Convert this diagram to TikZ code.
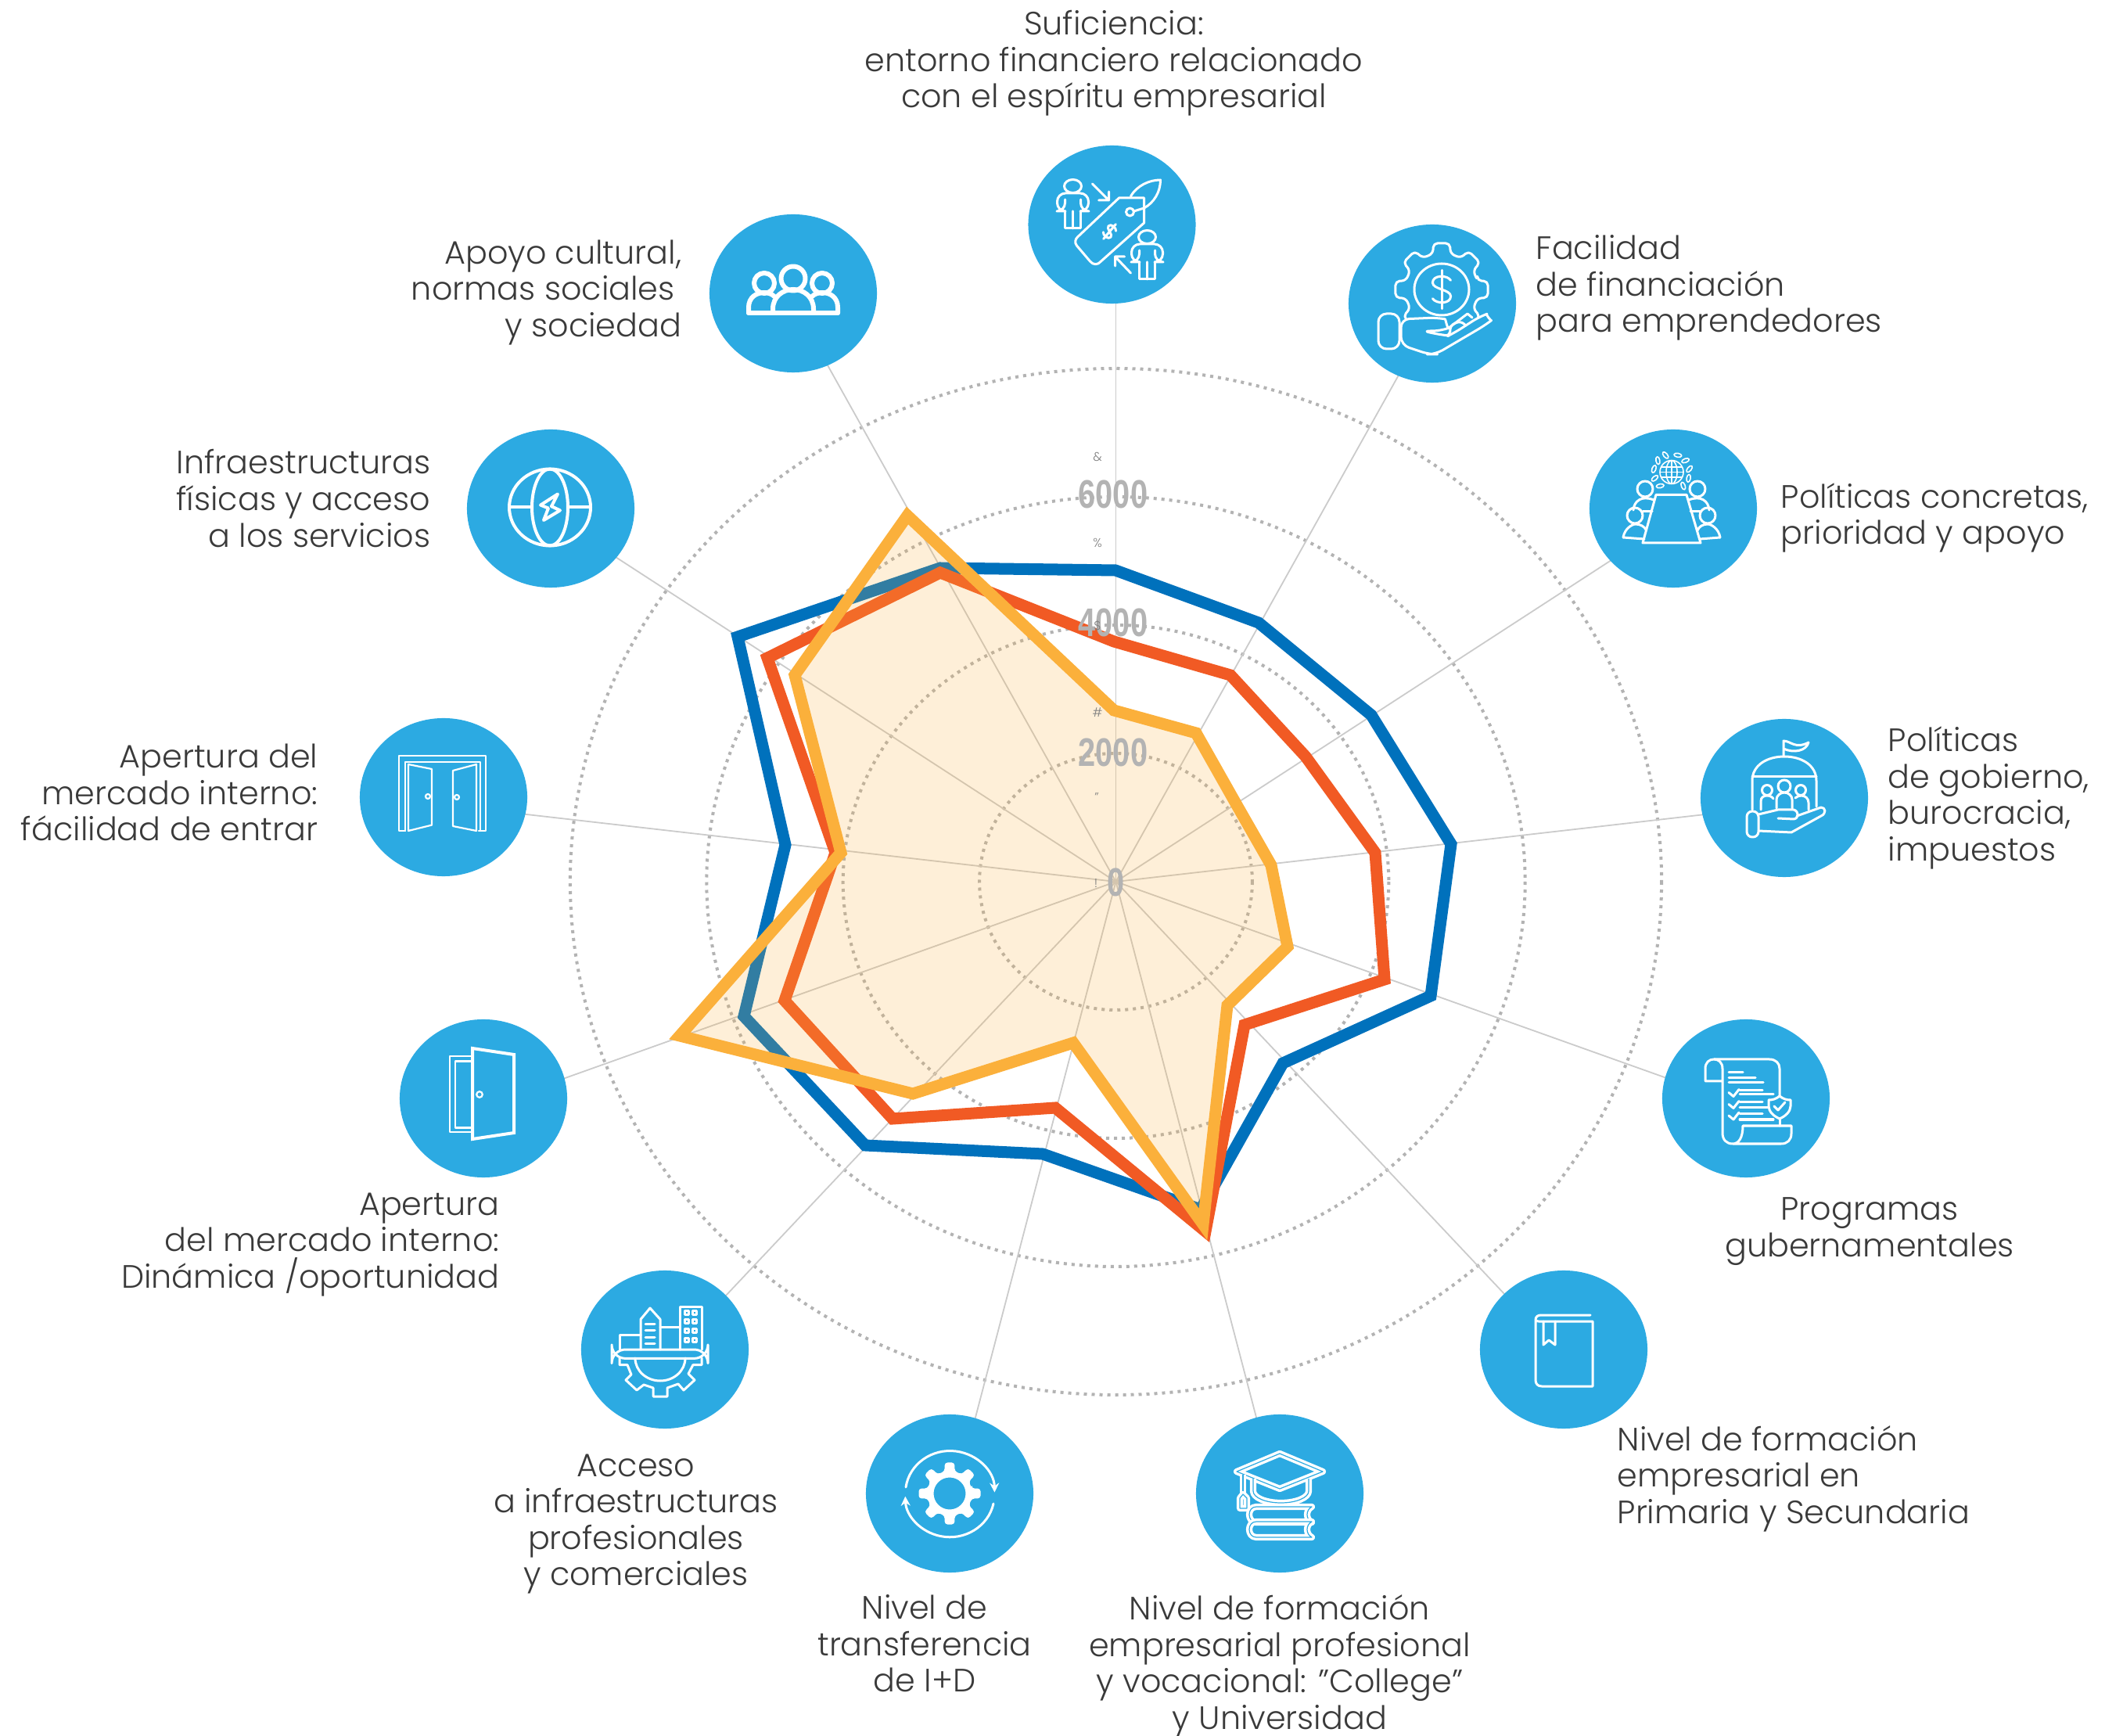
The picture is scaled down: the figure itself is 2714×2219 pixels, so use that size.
\documentclass[tikz,border=0pt]{standalone}
\usepackage{fontspec}
\setmainfont{Poppins}[UprightFont={* Light}]
\newfontfamily\numfont{Liberation Sans}
\usetikzlibrary{shapes.geometric,arrows.meta}
\definecolor{badgeblue}{HTML}{2CAAE2}
\definecolor{ringgray}{HTML}{B3B3B3}
\definecolor{spokegray}{HTML}{CBCBCB}
\definecolor{textgray}{HTML}{3A3A3A}
\definecolor{bluelin}{HTML}{0071BC}
\definecolor{redlin}{HTML}{F15A24}
\definecolor{yellin}{HTML}{FBB03B}

\begin{document}
\begin{tikzpicture}[
  x=0.01cm, y=-0.01cm,
  ring/.style={draw=ringgray, line width=0.04cm, dash pattern=on 0.04cm off 0.06cm},
  spoke/.style={draw=spokegray, line width=0.018cm},
  series/.style={line width=0.15cm, miter limit=10},
  badge/.style={ellipse, fill=badgeblue, minimum width=2.14cm, minimum height=2.02cm, inner sep=0pt},
  lbl/.style={text=textgray, inner sep=0pt, font=\fontsize{11.75}{13.24}\selectfont},
  numlbl/.style={text=ringgray, inner sep=0pt, font=\numfont\bfseries\fontsize{14.5}{15}\selectfont},
  tick/.style={text=gray, inner sep=0pt, font=\fontsize{4.5}{5}\selectfont},
  icon/.style={draw=white, line width=0.03cm, line join=round, line cap=round},
  iconthin/.style={draw=white, line width=0.016cm, line join=round},
  dbl/.style={draw=white, line width=0.035cm, double=badgeblue, double distance=0.012cm, line join=round},
  person/.pic={
    \draw[icon] (0,0) ellipse[x radius=11, y radius=8.5];
    \draw[icon, rounded corners=3] (-10,17) -- (-10,32) -- (-20,32) -- (-20,9) -- (20,9) -- (20,32) -- (10,32) -- (10,17);
    \draw[icon] (-10,32) -- (-10,54) -- (10,54) -- (10,32) (0,32) -- (0,54);
  },
  dollar/.pic={
    \draw[icon] (8,-8) .. controls (5,-13) and (-8,-13) .. (-8,-6) .. controls (-8,0) and (8,0) .. (8,6) .. controls (8,13) and (-5,13) .. (-8,8);
    \draw[icon] (0,-17) -- (0,17);
  },
]
\useasboundingbox (0,0) rectangle (2714,2219);

% rings and spokes
\coordinate (o) at (1426.5,1127);
\foreach \k in {1,2,3,4}
  \draw[ring] (o) ellipse[x radius=174.4*\k, y radius=164*\k];
\foreach \i in {0,...,12} {
  \coordinate (s\i) at ({1426.5+820*1.0637*sin(\i*360/13)},{1127-820*cos(\i*360/13)});
  \draw[spoke] (o) -- (s\i);
}

% series
\draw[series, draw=bluelin] (1426,729) -- (1609,796) -- (1753,914) -- (1855,1079) -- (1829,1273) -- (1640,1359) -- (1535,1546) -- (1333,1475) -- (1106,1464) -- (951,1299) -- (1004,1080) -- (943,814) -- (1202,726) -- cycle;
\draw[series, draw=redlin] (1424,820) -- (1573,863) -- (1669,967) -- (1758,1090) -- (1770,1252) -- (1591,1310) -- (1541,1574) -- (1349,1416) -- (1141,1430) -- (1003,1279) -- (1068,1090) -- (981,841) -- (1202,732) -- cycle;
\draw[series, draw=yellin, fill=yellin, fill opacity=.2] (1424,908) -- (1529,937) -- (1581,1029) -- (1625,1106) -- (1646,1210) -- (1569,1285) -- (1538,1565) -- (1372,1333) -- (1167,1398) -- (869,1324) -- (1075,1090) -- (1016,863) -- (1160,659) -- cycle;

% axis values
\node[numlbl] (v6) at (1423,632) {\scalebox{.78}[1]{6000}};
\node[numlbl] (v4) at (1423,796) {\scalebox{.78}[1]{4000}};
\node[numlbl] (v2) at (1423,962) {\scalebox{.78}[1]{2000}};
\node[numlbl] (v0) at (1427,1128) {\scalebox{.78}[1]{0}};
\node[tick] (t6) at (1403,584) {\&};
\node[tick] (t5) at (1403,694) {\%};
\node[tick] (t4) at (1403,800) {\$};
\node[tick] (t3) at (1403,911) {\#};
\node[tick] (t2) at (1402,1019) {"};
\node[tick] (t1) at (1401,1129) {!};

% badges
\node[badge] (sufic) at (1421.5,287) {};
\node[badge] (finan) at (1831,388) {};
\node[badge] (conc) at (2139,650) {};
\node[badge] (gob) at (2281,1020) {};
\node[badge] (prog) at (2232,1404) {};
\node[badge] (prim) at (1999,1725) {};
\node[badge] (prof) at (1636,1909) {};
\node[badge] (idi) at (1214,1909) {};
\node[badge] (acc) at (850,1725) {};
\node[badge] (din) at (618,1404) {};
\node[badge] (fac) at (567,1019) {};
\node[badge] (infra) at (704,650) {};
\node[badge] (apoyo) at (1014,375) {};

% labels
\node[lbl, align=center] (lsufic) at (1424,81) {Suficiencia:\\entorno financiero relacionado\\con el espíritu empresarial};
\node[lbl, align=left, anchor=west] (lfinan) at (1963,368) {Facilidad\\de financiación\\para emprendedores};
\node[lbl, align=left, anchor=west] (lconc) at (2276,662) {Políticas concretas,\\prioridad y apoyo};
\node[lbl, align=left, anchor=west] (lgob) at (2413,1020) {Políticas\\de gobierno,\\burocracia,\\impuestos};
\node[lbl, align=center] (lprog) at (2390,1574) {Programas\\gubernamentales};
\node[lbl, align=left, anchor=west] (lprim) at (2067,1890) {Nivel de formación\\empresarial en\\Primaria y Secundaria};
\node[lbl, align=center] (lprof) at (1636,2130) {Nivel de formación\\empresarial profesional\\y vocacional: "College"\\y Universidad};
\node[lbl, align=center] (lidi) at (1182,2101) {Nivel de\\transferencia\\de I+D};
\node[lbl, align=center] (lacc) at (813,1948) {Acceso\\a infraestructuras\\profesionales\\y comerciales};
\node[lbl, align=right, anchor=east] (ldin) at (639,1591) {Apertura\\del mercado interno:\\Dinámica /oportunidad};
\node[lbl, align=right, anchor=east] (lfac) at (407,1013) {Apertura del\\mercado interno:\\fácilidad de entrar};
\node[lbl, align=right, anchor=east] (linfra) at (551,637) {Infraestructuras\\físicas y acceso\\a los servicios};
\node[lbl, align=right, anchor=east] (lapoyo) at (872,374) {Apoyo cultural,\\normas sociales\rule{.21em}{0pt}\\y sociedad};

% icon: tag
\begin{scope}[shift={(sufic.center)}]
  \pic at (-50,-49) {person};
  \pic at (45,16) {person};
  \draw[icon] (9,-34) -- (41,-34) -- (41,-2) -- (-14,47) .. controls (-18,52) and (-24,52) .. (-28,47) -- (-45,27) .. controls (-48,23) and (-47,19) .. (-44,16) -- cycle;
  \draw[icon] (23,-16) circle[radius=5];
  \draw[icon] (24,-36) .. controls (32,-50) and (48,-57) .. (62,-57) .. controls (62,-42) and (54,-28) .. (41,-21) -- (28,-17);
  \draw[icon] (-25,-52) -- (-4,-31) -- (-4,-42) (-4,-31) -- (-17,-31);
  \draw[icon] (24,62) -- (4,41) -- (4,53) (4,41) -- (16,41);
  \pic[rotate=-40, scale=.72] at (-3,9) {dollar};
\end{scope}

% icon: gear and hand
\begin{scope}[shift={(finan.center)}]
  \begin{scope}[shift={(12,-18)}]
    \draw[icon, rounded corners=1.5] (-14:47) \foreach \a in {0,45,...,315} {-- (\a-14:47) -- (\a-10:60) -- (\a+10:60) -- (\a+14:47)} -- cycle;
    \draw[icon] (0,0) ellipse[x radius=35, y radius=33];
    \pic[scale=1.45] at (0,0) {dollar};
  \end{scope}
  \draw[icon, fill=badgeblue, rounded corners=3] (-40,20) -- (6,18) .. controls (17,20) and (19,32) .. (11,35) -- (-13,35) -- (11,40) .. controls (20,41) and (25,39) .. (29,37) -- (60,17) .. controls (68,14) and (75,22) .. (67,28) -- (4,65) -- (-4,65) -- (-40,53) -- cycle;
  \draw[icon] (20,32) -- (45,13) -- (51,18);
  \draw[icon, fill=badgeblue, rounded corners=3] (-69,13) rectangle (-42,58);
\end{scope}

% icon: meeting table
\begin{scope}[shift={(conc.center)}]
  \draw[iconthin] (-2,-46.5) circle[radius=15] (-2,-46.5) ellipse[x radius=7, y radius=15];
  \draw[iconthin] (-17,-46.5) -- (13,-46.5) (-15,-53) -- (11,-53) (-15,-40) -- (11,-40) (-2,-61.5) -- (-2,-31.5);
  \begin{scope}[shift={(-2,-46.5)}]
    \foreach \a in {-70,-40,-10,20,50,250,220,190,160,130}
      \draw[iconthin, rotate around={\a+60:(\a:23)}] (\a:23) ellipse[x radius=5, y radius=2.5];
  \end{scope}
  \draw[icon] (-22,-17.6) -- (17,-17.6) -- (35,44) -- (-39,44) -- cycle;
  \foreach \x/\y in {-36/-25, 31/-25, -49/9, 44/9}
    \draw[icon] (\x,\y) circle[radius=10];
  \draw[icon] (-51,2) .. controls (-50,-10) and (-40,-17) .. (-25,-11);
  \draw[icon] (-39,4) -- (-27,4);
  \draw[icon] (-64,37) .. controls (-62,25) and (-52,20) .. (-48,20) .. controls (-42,20) and (-37,23) .. (-35,27);
  \draw[icon] (-64,37) -- (-37,39);
  \draw[icon] (46,2) .. controls (45,-10) and (35,-17) .. (20,-11);
  \draw[icon] (34,4) -- (22,4);
  \draw[icon] (60,37) .. controls (58,25) and (48,20) .. (44,20) .. controls (38,20) and (33,23) .. (31,28);
  \draw[icon] (60,37) -- (34,39);
\end{scope}

% icon: dome and hand
\begin{scope}[shift={(gob.center)}]
  \draw[icon] (-1,-54) -- (-1,-73) .. controls (8,-73) and (14,-62) .. (31,-71) .. controls (28,-60) and (12,-57) .. (-1,-63);
  \draw[icon] (-41,15) -- (-41,-22) .. controls (-41,-42) and (-22,-53) .. (0,-53) .. controls (22,-53) and (41,-42) .. (41,-22) -- (41,11);
  \draw[icon] (-41,-27) -- (41,-27);
  \draw[icon] (-22,-10) circle[radius=6.5] (0,-15) circle[radius=8] (21,-10) circle[radius=6.5];
  \draw[icon] (-30,15) -- (-30,4) .. controls (-30,-1) and (-26,-3) .. (-22,-3) .. controls (-18,-3) and (-15,-1) .. (-14,1);
  \draw[icon] (-10,13) -- (-10,2) .. controls (-10,-3) and (-5,-7) .. (0,-7) .. controls (5,-7) and (10,-3) .. (10,2) -- (10,13);
  \draw[icon] (14,0) .. controls (16,-2) and (19,-3) .. (22,-3) .. controls (27,-3) and (31,1) .. (31,6) -- (31,15);
  \draw[icon, rounded corners=2] (-48,17) rectangle (-33,50);
  \draw[icon] (-33,21) -- (-8,15) -- (12,15) .. controls (19,17) and (19,26) .. (12,27) -- (-8,26);
  \draw[icon] (16,23) -- (47,12) .. controls (53,12) and (54,20) .. (47,23) -- (9,44) -- (-33,42);
\end{scope}

% icon: scroll
\begin{scope}[shift={(prog.center)}]
  \draw[icon] (-30,-22) -- (-52,-22) -- (-52,-38) .. controls (-52,-46) and (-47,-50) .. (-41,-50) .. controls (-35,-50) and (-30,-46) .. (-30,-38) -- (-30,44) .. controls (-30,53) and (-25,58) .. (-17,58) .. controls (-9,58) and (-4,50) .. (-4,35) -- (58,35) -- (58,45) .. controls (58,53) and (53,58) .. (45,58) -- (-17,58);
  \draw[icon] (-41,-50) -- (30,-50) .. controls (38,-50) and (43,-45) .. (43,-38) -- (43,-2);
  \draw[icon] (-22,-33) -- (-4,-33) (-22,-26) -- (12,-26) (-22,-20) -- (22,-20);
  \foreach \y in {-7.5,7.5,22} {
    \draw[icon] (-22,\y) -- (-16,\y+5) -- (-9,\y-4);
    \draw[icon] (-8,\y-2.5) -- (21,\y-2.5);
  }
  \draw[icon] (-8,-5) -- (35,-5) (-8,12) -- (28,12) (-8,27) -- (35,27);
  \draw[icon] (43,-3) .. controls (48,1) and (52,2) .. (57,2) -- (57,10) .. controls (57,17) and (50,23) .. (43,26) .. controls (36,23) and (29,17) .. (29,10) -- (29,2) .. controls (34,2) and (38,1) .. (43,-3) -- cycle;
  \draw[icon] (36,10) -- (41,15) -- (50,5);
  \draw[icon] (43,26) -- (43,35);
\end{scope}

% icon: book
\begin{scope}[shift={(prim.center)}]
  \draw[icon] (34,-44) -- (-29,-44) .. controls (-33,-44) and (-36,-42) .. (-36,-38) -- (-36,39) .. controls (-36,44) and (-33,47) .. (-28,47) -- (37,47) -- (37,-36) -- (-32,-36) .. controls (-35,-36) and (-36,-37) .. (-36,-38);
  \draw[icon] (-26,-36) -- (-26,-6) -- (-19,-12) -- (-11,-6) -- (-11,-36);
\end{scope}

% icon: cap and books
\begin{scope}[shift={(prof.center)}]
  \draw[dbl] (0,-51) -- (55,-28) -- (0,-6) -- (-55,-28) -- cycle;
  \draw[dbl] (-34,-19) -- (-34,-3) arc[start angle=180, end angle=0, x radius=35.5, y radius=15] -- (37,-19);
  \draw[dbl] (-47,-24) -- (-47,1);
  \draw[dbl] (-51,19) -- (-51,6) -- (-47,1) -- (-42,6) -- (-42,19) -- cycle;
  \foreach \y in {0,19}
    \draw[dbl] (41,17+\y) -- (-30,17+\y) .. controls (-42,17+\y) and (-42,37+\y) .. (-30,37+\y) -- (41,37+\y) .. controls (33,33+\y) and (33,21+\y) .. (41,17+\y) -- cycle;
\end{scope}

% icon: gear and arrows
\begin{scope}[shift={(idi.center)}]
  \fill[white, even odd rule, rounded corners=1] (-13:29) \foreach \a in {0,45,...,315} {-- (\a-13:29) -- (\a-9:40) -- (\a+9:40) -- (\a+13:29)} -- cycle (0,0) circle[radius=20.5];
  \draw[icon, -{Stealth[length=0.12cm, width=0.12cm]}] (-56,-8) arc[start angle=-172, end angle=-1, x radius=57, y radius=54];
  \draw[icon, -{Stealth[length=0.12cm, width=0.12cm]}] (56,13) arc[start angle=12, end angle=178, x radius=57, y radius=54];
\end{scope}

% icon: city on gear
\begin{scope}[shift={(acc.center)}]
  \draw[icon, rounded corners=5] (-68,0) rectangle (55,11.4);
  \draw[icon] (-58,11) -- (-58,19.6) -- (-48,19.6) -- (-43,32) -- (-50,39) -- (-36,52) -- (-27,45) -- (-15,49) -- (-15,60) -- (3,60) -- (3,49) -- (17,44) -- (24,52) -- (38,39) -- (30,31) -- (36,19.6) -- (47,19.6) -- (47,11);
  \draw[icon] (-38,11) arc[start angle=180, end angle=0, x radius=32, y radius=29];
  \draw[icon] (-58,0) -- (-58,-19) -- (-31,-19);
  \draw[icon] (-31,0) -- (-31,-38.6) -- (-19,-53) -- (-6,-38.6) -- (-6,0);
  \foreach \y in {-33,-25,-16,-8}
    \draw[icon] (-25,\y) -- (-13,\y);
  \draw[icon] (-6,-29) -- (19,-29);
  \draw[icon] (19,0) -- (19,-55) -- (47,-55) -- (47,0);
  \foreach \x in {28,38}
    \foreach \y in {-47,-36,-24,-12}
      \draw[iconthin, line width=0.022cm] (\x-2.5,\y-2.5) rectangle (\x+2.5,\y+2.5);
\end{scope}

% icon: one door
\begin{scope}[shift={(din.center)}]
  \draw[icon, line width=0.022cm] (-15,-54) -- (-43,-54) -- (-43,43) -- (-15,43);
  \draw[icon, line width=0.022cm] (-15,-47.5) -- (-36,-47.5) -- (-36,37.5) -- (-15,37.5);
  \draw[icon, line width=0.04cm, line cap=butt, line join=miter] (-14,-64) -- (39,-56) -- (39,44) -- (-14,52) -- cycle;
  \draw[icon, line width=0.022cm] (-5,-5) circle[radius=3.8];
\end{scope}

% icon: two doors
\begin{scope}[shift={(fac.center)}]
  \draw[icon, line width=0.022cm] (-49,43) -- (-57,43) -- (-57,-53) -- (54,-53) -- (54,43) -- (45,43);
  \draw[icon, line width=0.022cm] (-49,43) -- (-49,-45) -- (47,-45) -- (47,43);
  \draw[icon, line width=0.022cm] (-45,-42) -- (-15,-36) -- (-15,35.6) -- (-45,43) -- cycle;
  \draw[icon, line width=0.022cm] (42,-42) -- (12,-34) -- (12,37) -- (42,43) -- cycle;
  \draw[icon, line width=0.022cm] (-20,-1) circle[radius=3] (17,0) circle[radius=3];
\end{scope}

% icon: globe and bolt
\begin{scope}[shift={(infra.center)}]
  \draw[icon, line width=0.04cm] (-1,-1.5) ellipse[x radius=52, y radius=49];
  \draw[icon, line width=0.04cm] (-1,-1.5) ellipse[x radius=23, y radius=49];
  \draw[icon, line width=0.04cm] (-52,-1.5) -- (-24,-1.5) (22,-1.5) -- (50,-1.5);
  \draw[icon, line width=0.04cm] (9,-18.5) -- (-13,-4.4) -- (-3,-0.4) -- (-9,15) -- (12,2.4) -- (1,-2.8) -- cycle;
\end{scope}

% icon: three people
\begin{scope}[shift={(apoyo.center)}]
  \draw[icon, line width=0.06cm] (0,-19) circle[radius=15.5] (-37,-13) circle[radius=13] (37,-13) circle[radius=13];
  \draw[icon, line width=0.06cm] (-57,25) -- (57,25);
  \draw[icon, line width=0.06cm] (-26,25) -- (-26,20) .. controls (-26,4) and (-13,-5) .. (0,-5) .. controls (13,-5) and (26,4) .. (26,20) -- (26,25);
  \draw[icon, line width=0.06cm] (-57,25) -- (-57,18) .. controls (-57,5) and (-47,-1) .. (-37,-1) .. controls (-32,-1) and (-27,1) .. (-24,4);
  \draw[icon, line width=0.06cm] (57,25) -- (57,18) .. controls (57,5) and (47,-1) .. (37,-1) .. controls (32,-1) and (27,1) .. (24,4);
\end{scope}
\end{tikzpicture}
\end{document}
